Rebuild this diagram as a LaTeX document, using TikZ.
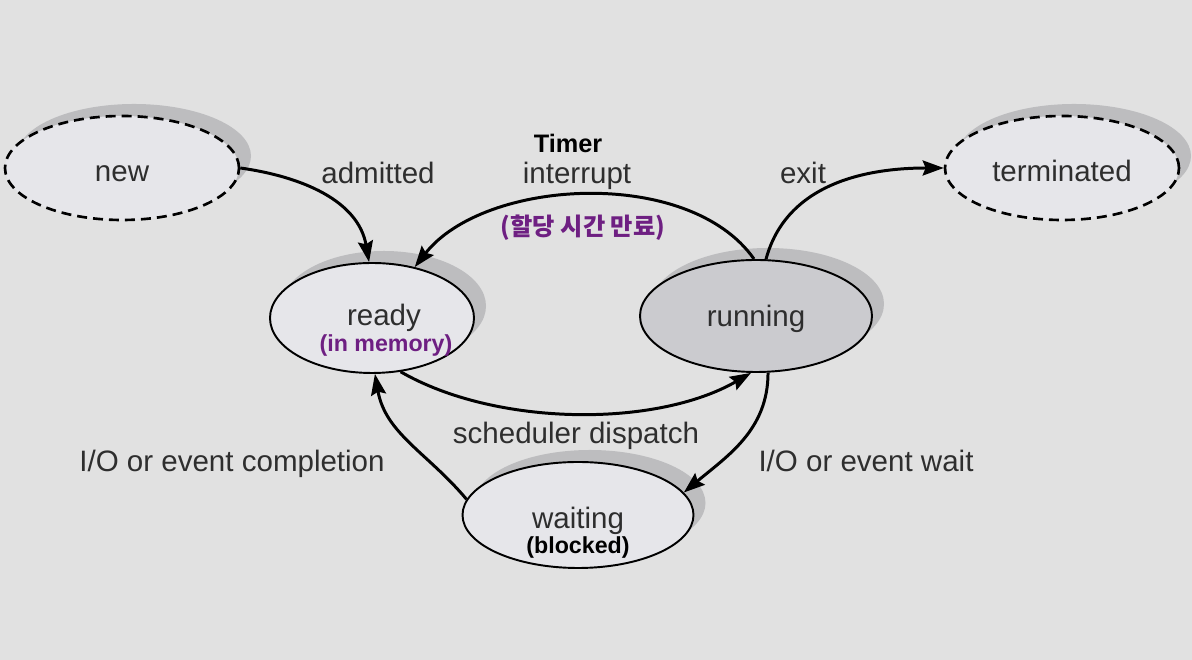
\documentclass[tikz,border=0pt]{standalone}
\usepackage{fontspec}
\setmainfont{Liberation Sans}
\newfontfamily\krfont{Noto Sans CJK KR}
\usetikzlibrary{shapes.geometric, arrows.meta, shadows}

\definecolor{bggray}{HTML}{E1E1E1}
\definecolor{statefill}{HTML}{E6E6EA}
\definecolor{runfill}{HTML}{CBCBCF}
\definecolor{shadowgray}{HTML}{BDBDBF}
\definecolor{labelgray}{HTML}{2E2E2E}
\definecolor{notepurple}{HTML}{6E1F82}

\begin{document}
\begin{tikzpicture}[
		state/.style = {ellipse, draw, line width = 1.1pt, fill = statefill, text = labelgray, inner sep = 0pt,
			font = \fontsize{16.8}{20}\selectfont, text height = 16pt, text depth = 0.5pt,
			drop shadow = {shadow xshift = 0.24cm, shadow yshift = 0.24cm, fill = shadowgray, opacity = 1}},
		outer/.style = {state, line width = 1.5pt, dash pattern = on 0.2cm off 0.12cm},
		lbl/.style = {text = labelgray, inner sep = 1pt, font = \fontsize{16.8}{20}\selectfont,
			text height = 16pt, text depth = 0.5pt},
		note/.style = {inner sep = 1pt, font = \fontsize{13.2}{15}\selectfont\bfseries},
		trans/.style = {line width = 1.7pt, -{Stealth[length = 0.42cm, width = 0.3cm, inset = 0.06cm]}}
	]
	\useasboundingbox [fill = bggray] (0, 0) rectangle (23.84, 13.2);
	
	% states
	\node [outer, minimum width = 4.68cm, minimum height = 2.08cm] (new) at (2.44, 9.84) {new};
	\node [outer, minimum width = 4.68cm, minimum height = 2.08cm] (terminated) at (21.24, 9.84) {terminated};
	\node [state, minimum width = 4.08cm, minimum height = 2.2cm] (ready) at (7.44, 6.84) {\hspace{0.48cm}\raisebox{3.4pt}{ready}};
	\node [state, fill = runfill, minimum width = 4.64cm, minimum height = 2.24cm] (running) at (15.12, 6.88) {\raisebox{1.5pt}{running}};
	\node [state, minimum width = 4.62cm, minimum height = 2.12cm] (waiting) at (11.56, 2.9) {waiting};
	
	\node [note, text = notepurple] (readynote) at ([xshift = 0.28cm, yshift = -0.56cm] ready.center) {(in memory)};
	\node [note, text = black] (waitingnote) at ([yshift = -0.66cm] waiting.center) {(blocked)};
	
	% transitions
	\draw [trans] (new.east) to [out = -8, in = 100] (ready.93);
	\draw [trans] (running.92) to [out = 125, in = 52, looseness = 0.85] (ready.50);
	\draw [trans] (running.80) to [out = 75, in = 180] (terminated.west);
	\draw [trans] (ready.-62) to [out = -30, in = -150, looseness = 0.8] (running.-95);
	\draw [trans] (running.-78) to [out = -90, in = 40] (waiting.12);
	\draw [trans] (waiting.172) to [out = 130, in = -80] (ready.-87);
	
	% labels
	\node [lbl] (admitted) at (7.56, 9.8) {admitted};
	\node [lbl, text = black, font = \fontsize{14.4}{17}\selectfont\bfseries] (timer) at (11.36, 10.42) {Timer};
	\node [lbl] (interrupt) at (11.54, 9.8) {interrupt};
	\node [note, text = notepurple, font = \fontsize{13.8}{16}\selectfont\krfont\bfseries] (timeout) at (11.66, 8.64) {(할당 시간 만료)};
	\node [lbl] (exit) at (16.06, 9.8) {exit};
	\node [lbl] (dispatch) at (11.52, 4.6) {scheduler dispatch};
	\node [lbl] (completion) at (4.64, 4.04) {I/O or event completion};
	\node [lbl] (wait) at (17.32, 4.04) {I/O or event wait};
\end{tikzpicture}
\end{document}
